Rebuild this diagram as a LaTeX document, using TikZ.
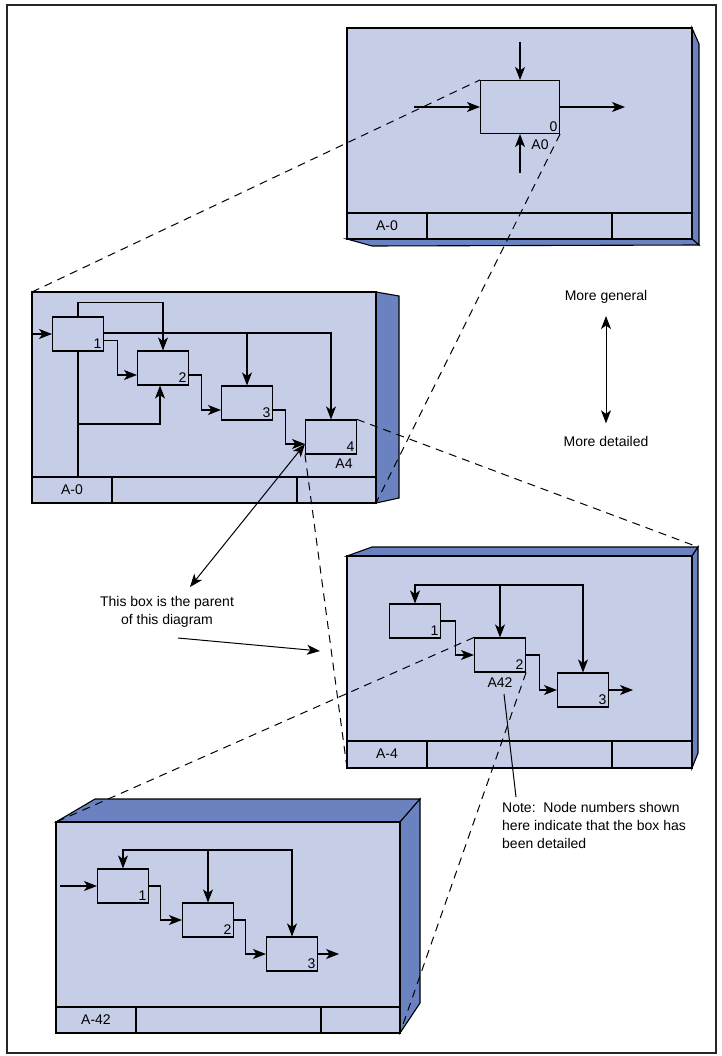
\documentclass[tikz,border=0pt]{standalone}
\usepackage{fontspec}
\setmainfont{Liberation Sans}
\usetikzlibrary{arrows.meta}
\definecolor{face}{RGB}{198,205,231}
\definecolor{side}{RGB}{106,131,192}
\tikzset{
  proc/.style={draw, line width=1.1pt, minimum width=51pt, minimum height=34pt, inner sep=0pt},
  num/.style={anchor=south east, inner sep=2.5pt},
  tip/.tip={Stealth[length=13pt,width=10pt,inset=3.5pt]},
  flow/.style={line width=1.1pt, -tip},
  frame/.style={draw, line width=1.3pt, fill=face},
  shade/.style={draw, line width=1.1pt, fill=side},
  link/.style={dash pattern=on 8pt off 6pt, line width=1pt},
}

\begin{document}
\begin{tikzpicture}[x=1pt, y=-1pt, font=\fontsize{14}{18}\selectfont]
	\useasboundingbox (0,0) rectangle (721,1056);
	\draw[line width=1.5pt, black!85] (7,5) rectangle (716,1053);
	% A-0 context diagram
	\draw[shade] (692,28) -- (699,44) -- (699,245) -- (692,239) -- cycle;
	\draw[shade] (347,239) -- (372,246) -- (699,245) -- (692,239) -- cycle;
	\draw[frame] (347,28) rectangle (692,239);
	\draw[line width=1.3pt] (347,213) -- (692,213) (427,213) -- (427,239) (612,213) -- (612,239);
	\node at (387,226) (F0) {A-0};
	\node[proc, minimum width=79pt, minimum height=53pt, label={[num]south east:0}] at (520,107) (B0) {};
	\node at (540,145) (L0) {A0};
	\coordinate (c0) at (520,42);
	\coordinate (i0) at (414,107);
	\coordinate (o0) at (625,107);
	\coordinate (m0) at (520,173);
	\draw[flow] (c0) -- (B0.north);
	\draw[flow] (i0) -- (B0.west);
	\draw[flow] (B0.east) -- (o0);
	\draw[flow] (m0) -- (B0.south);
	% A0 decomposition
	\draw[shade] (376,292) -- (399,296) -- (399,498) -- (376,503) -- cycle;
	\draw[frame] (32,292) rectangle (376,503);
	\draw[line width=1.3pt] (32,477) -- (376,477) (112,477) -- (112,503) (297,477) -- (297,503);
	\node at (72,490) (F1) {A-0};
	\node[proc, label={[num]south east:1}] at (78,334) (B1) {};
	\node[proc, label={[num]south east:2}] at (163,368) (B2) {};
	\node[proc, label={[num]south east:3}] at (247,403) (B3) {};
	\node[proc, label={[num]south east:4}] at (331,437) (B4) {};
	\node at (344,464) (L4) {A4};
	\coordinate (i1) at (33,334);
	\coordinate (t1) at ([yshift=1pt]B1.east);
	\draw[flow] (i1) -- (B1.west);
	\draw[flow] (B1.north) -- ++(0,-14) -| (B2.north);
	\draw[flow] (t1) -| (B4.north);
	\draw[flow] (t1 -| B3.north) -- (B3.north);
	\draw[flow] ([yshift=-6.5pt]B1.east) -- ++(13,0) |- ([yshift=-7pt]B2.west);
	\draw[line width=1.1pt] (B1.south) -- (B1.south |- 0,477);
	\draw[flow] (B1.south |- 0,424) -| ([xshift=-3pt]B2.south);
	\draw[flow] ([yshift=-7pt]B2.east) -- ++(12,0) |- ([yshift=-7pt]B3.west);
	\draw[flow] ([yshift=-7pt]B3.east) -- ++(12,0) |- ([yshift=-7pt]B4.west);
	% A4 decomposition
	\draw[shade] (347,556) -- (372,547) -- (698,547) -- (692,556) -- cycle;
	\draw[shade] (692,556) -- (698,547) -- (698,753) -- (692,768) -- cycle;
	\draw[frame] (347,556) rectangle (692,768);
	\draw[line width=1.3pt] (347,741) -- (692,741) (427,741) -- (427,768) (612,741) -- (612,768);
	\node at (387,754) (F2) {A-4};
	\node[proc, label={[num]south east:1}] at (415,621) (C1) {};
	\node[proc, label={[num]south east:2}] at (500,655) (C2) {};
	\node[proc, label={[num]south east:3}] at (583,690) (C3) {};
	\node at (500,683) (L42) {A42};
	\coordinate (t3) at (500,585);
	\draw[flow] (t3) -| (C1.north);
	\draw[flow] (t3) -- (C2.north);
	\draw[flow] (t3) -| (C3.north);
	\draw[flow] (C1.east) -- ++(14,0) |- (C2.west);
	\draw[flow] (C2.east) -- ++(13,0) |- (C3.west);
	\draw[flow] (C3.east) -- ++(24,0);
	% A42 decomposition
	\draw[shade] (56,822) -- (95,799) -- (420,799) -- (400,822) -- cycle;
	\draw[shade] (400,822) -- (420,799) -- (420,1003) -- (400,1033) -- cycle;
	\draw[frame] (56,822) rectangle (400,1033);
	\draw[line width=1.3pt] (56,1007) -- (400,1007) (136,1007) -- (136,1033) (321,1007) -- (321,1033);
	\node at (96,1020) (F3) {A-42};
	\node[proc, label={[num]south east:1}] at (123,886) (D1) {};
	\node[proc, label={[num]south east:2}] at (208,920) (D2) {};
	\node[proc, label={[num]south east:3}] at (292,954) (D3) {};
	\coordinate (t4) at (208,850);
	\coordinate (i4) at (60,886);
	\draw[flow] (t4) -| (D1.north);
	\draw[flow] (t4) -- (D2.north);
	\draw[flow] (t4) -| (D3.north);
	\draw[flow] (i4) -- (D1.west);
	\draw[flow] (D1.east) -- ++(11,0) |- (D2.west);
	\draw[flow] (D2.east) -- ++(11,0) |- (D3.west);
	\draw[flow] (D3.east) -- ++(21,0);
	% notes
	\node at (606,297) (MG) {More general};
	\node at (606,441) (MD) {More detailed};
	\draw[line width=1pt, tip-tip, shorten <=9pt, shorten >=9pt] (MG) -- (MD);
	\node[align=center] at (167,612) (PT) {This box is the parent\\of this diagram};
	\coordinate (pa) at (190,587);
	\coordinate (pp) at (178,638);
	\coordinate (pq) at (320,651);
	\draw[line width=1pt, tip-tip] (pa) -- ([yshift=-7pt]B4.west);
	\draw[flow, line width=1pt] (pp) -- (pq);
	\node[align=left, anchor=north west, inner sep=0pt] at (502,802) (NT) {Note:\ \ Node numbers shown\\here indicate that the box has\\been detailed};
	\coordinate (na) at (504,694);
	\coordinate (nb) at (516,797);
	\draw[line width=1pt] (na) -- (nb);
	% parent-child links
	\coordinate (P1nw) at (32,292);
	\coordinate (P1se) at (376,503);
	\coordinate (P2ne) at (698,547);
	\coordinate (P2sw) at (347,768);
	\coordinate (P3nw) at (56,822);
	\coordinate (P3se) at (400,1033);
	\draw[link] (P1nw) -- (B0.north west);
	\draw[link] (B0.south east) -- (P1se);
	\draw[link] (B4.north east) -- (P2ne);
	\draw[link] (B4.south west) -- (P2sw);
	\draw[link] (C2.north west) -- (P3nw);
	\draw[link] (C2.south east) -- (P3se);
\end{tikzpicture}
\end{document}
